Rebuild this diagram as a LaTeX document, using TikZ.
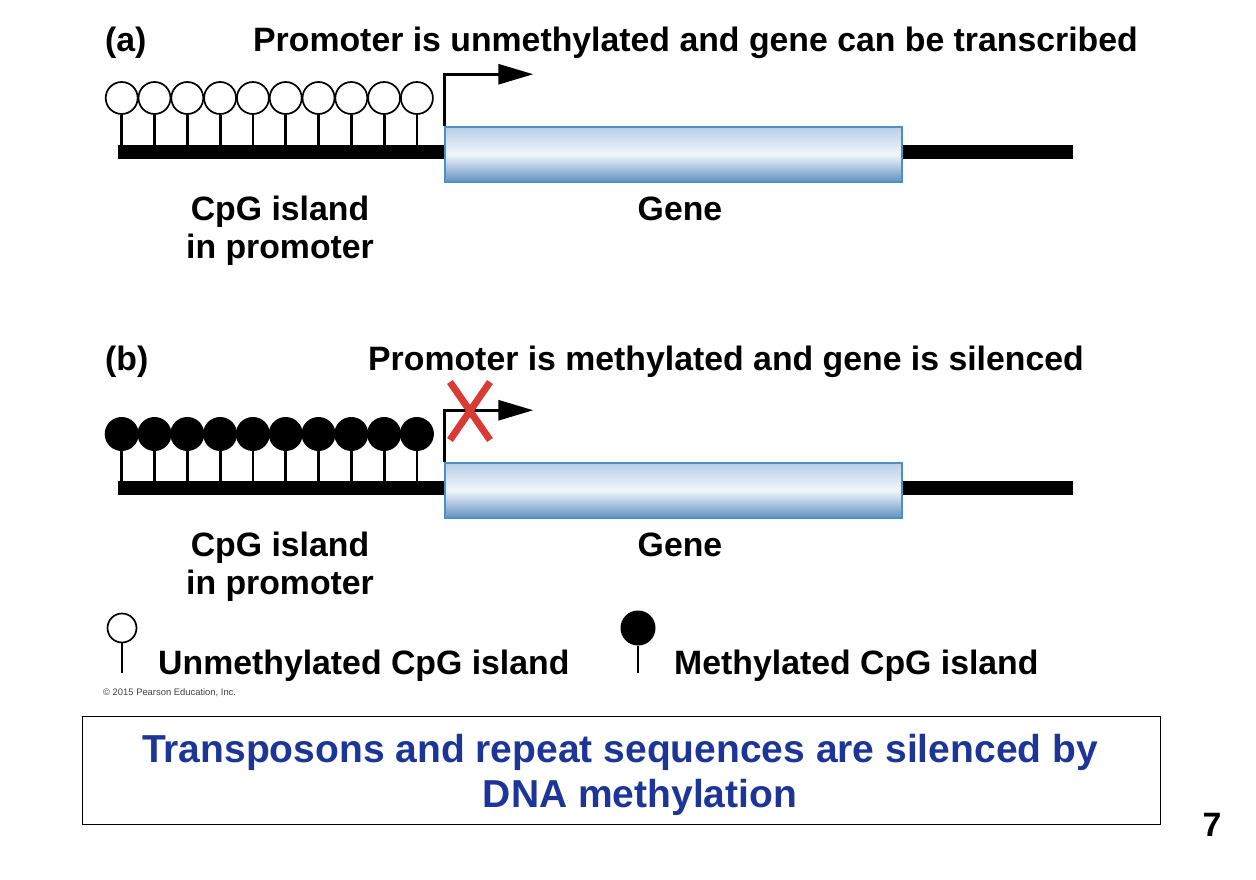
\documentclass[tikz,border=0pt]{standalone}
\usepackage{fontspec}
\setmainfont{Liberation Sans}
\usetikzlibrary{arrows.meta}

\definecolor{genetop}{HTML}{B8CFE8}
\definecolor{genemid}{HTML}{F0F5FB}
\definecolor{genebot}{HTML}{6391C3}
\definecolor{geneedge}{HTML}{4A92C6}
\definecolor{crossred}{HTML}{D93A33}
\definecolor{noteblue}{HTML}{1C3597}

\newcommand{\labfont}{\fontsize{33.8}{38}\selectfont\bfseries}
\newcommand{\notefont}{\fontsize{39}{45}\selectfont\bfseries}

\begin{document}
\begin{tikzpicture}
  [x=1pt,y=-1pt,every node/.style={inner sep=0pt},
   lab/.style={font=\labfont,anchor=base},
   dnabar/.style={fill=black,minimum width=955,minimum height=14},
   genebox/.style={draw=geneedge,line width=1.5pt,top color=genetop,
     bottom color=genebot,middle color=genemid,minimum width=457,minimum height=55},
   cpgopen/.style={circle,draw,line width=1.7pt,fill=white,minimum size=32},
   cpgfull/.style={circle,fill=black,minimum size=34},
   stem/.style={line width=2.8pt},
   tss/.style={line width=3pt,-{Triangle[length=35pt,width=20pt]}},
   redx/.style={crossred,line width=7pt}]
  \useasboundingbox (0,0) rectangle (1256,880);

  % both panels: DNA, gene, CpG pins, promoter arrow
  \foreach \p/\dy/\pinstyle in {A/0/cpgopen,B/336/cpgfull} {
    \begin{scope}[shift={(0,\dy)}]
      \node[dnabar] (dna\p) at (595.5,152) {};
      \node[genebox] (gene\p) at (673.5,154.5) {};
      \foreach \i in {0,...,9} {
        \node[\pinstyle] (cpg\p\i) at (121.7+32.8*\i,98) {};
        \draw[stem] (cpg\p\i.south) -- (cpg\p\i |- dna\p.north);
      }
      \draw[tss] (gene\p.north west) -- ++(0,-52) -- ++(89,0);
      \node[lab] (island\p) at (280,220) {CpG island};
      \node[lab] (prom\p) at (280,258) {in promoter};
      \node[lab] (genelab\p) at (680,220) {Gene};
    \end{scope}
  }

  \node[lab,anchor=base west] (tagA) at (105,52) {(a)};
  \node[lab,anchor=base west] (headA) at (253,52) {Promoter is unmethylated and gene can be transcribed};
  \node[lab,anchor=base west] (tagB) at (105,370) {(b)};
  \node[lab,anchor=base west] (headB) at (368,370) {Promoter is methylated and gene is silenced};

  % blocked start site
  \draw[redx] (450,382) -- (490,440) (490,382) -- (450,440);

  % key
  \node[cpgopen,minimum size=29] (keyopen) at (122,628) {};
  \coordinate (keyopenfoot) at (122,673);
  \draw[stem] (keyopen.south) -- (keyopenfoot);
  \node[lab,anchor=base west] (keyopentxt) at (158,674) {Unmethylated CpG island};
  \node[cpgfull,minimum size=35] (keyfull) at (638,628) {};
  \coordinate (keyfullfoot) at (638,673);
  \draw[stem] (keyfull.south) -- (keyfullfoot);
  \node[lab,anchor=base west] (keyfulltxt) at (674,674) {Methylated CpG island};

  \node[anchor=base west,font=\fontsize{9.4}{11}\selectfont,text=black!75] (credit) at (103,695) {© 2015 Pearson Education, Inc.};

  % summary box
  \node[draw,line width=1pt,minimum width=1078,minimum height=108] (note) at (621,770) {};
  \node[font=\notefont,text=noteblue,anchor=base] (noteA) at (620,762) {Transposons and repeat sequences are silenced by};
  \node[font=\notefont,text=noteblue,anchor=base] (noteB) at (640,807) {DNA methylation};

  \node[lab,anchor=base] (page) at (1212,836) {7};
\end{tikzpicture}
\end{document}
